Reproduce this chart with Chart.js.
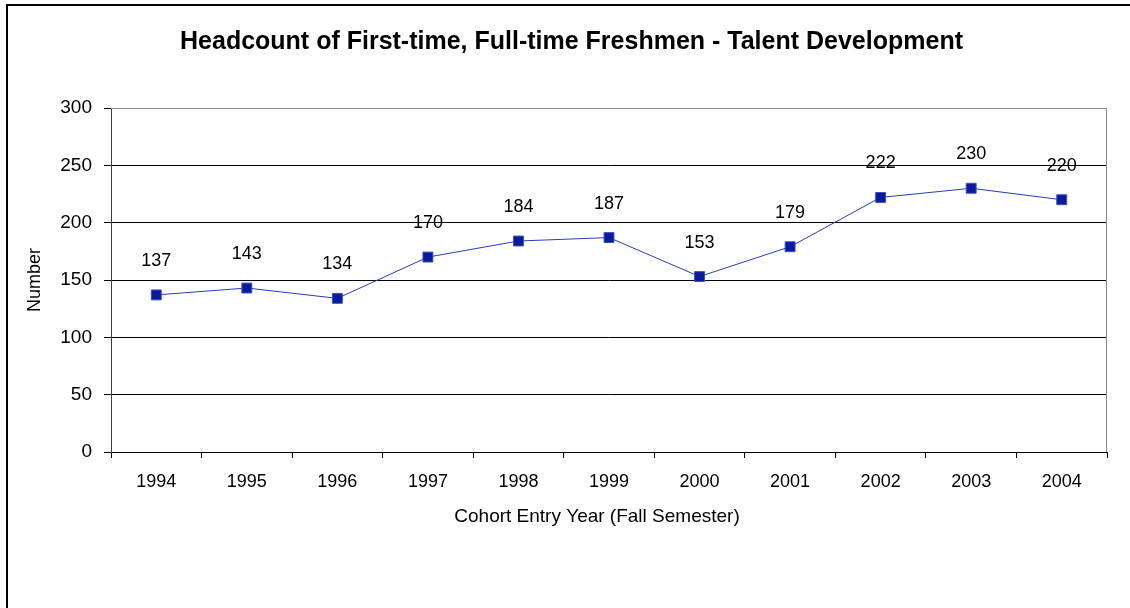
<!DOCTYPE html>
<html>
<head>
<meta charset="utf-8">
<script src="https://cdn.jsdelivr.net/npm/chart.js@4.4.1/dist/chart.umd.min.js"></script>
<style>
  html, body { margin: 0; padding: 0; background: #fff; }
  canvas { display: block; }
</style>
</head>
<body>
<canvas id="c" width="1130" height="608"></canvas>
<script>
// Cohort entry years and freshman headcounts
const years = ['1994', '1995', '1996', '1997', '1998', '1999', '2000', '2001', '2002', '2003', '2004'];
const headcount = [137, 143, 134, 170, 184, 187, 153, 179, 222, 230, 220];
const yTicks = [0, 50, 100, 150, 200, 250, 300];

const FONT = "'Liberation Sans', Arial, sans-serif";

// Outer frame, plot-area edges, value labels and the x caption
const decorations = {
  id: 'decorations',
  beforeDraw(chart) {
    const ctx = chart.ctx;
    ctx.save();
    ctx.strokeStyle = '#000';
    ctx.lineWidth = 2;
    ctx.beginPath();
    ctx.moveTo(7, 608);
    ctx.lineTo(7, 5);
    ctx.lineTo(1130, 5);
    ctx.stroke();
    ctx.restore();
  },
  afterDatasetsDraw(chart) {
    const ctx = chart.ctx;
    const a = chart.chartArea;
    ctx.save();
    ctx.strokeStyle = '#8c8c8c';
    ctx.lineWidth = 1;
    ctx.beginPath();
    ctx.moveTo(a.left, a.top + 0.5);
    ctx.lineTo(a.right - 0.5, a.top + 0.5);
    ctx.lineTo(a.right - 0.5, a.bottom);
    ctx.stroke();

    ctx.fillStyle = '#000';
    ctx.font = '18px ' + FONT;
    ctx.textAlign = 'center';
    ctx.textBaseline = 'middle';
    const meta = chart.getDatasetMeta(0);
    meta.data.forEach((pt, i) => {
      ctx.fillText(String(headcount[i]), pt.x, pt.y - 34);
    });

    ctx.font = '19px ' + FONT;
    ctx.fillText('Cohort Entry Year (Fall Semester)', 597, 517);
    ctx.restore();
  }
};

new Chart(document.getElementById('c'), {
  type: 'line',
  data: {
    labels: years,
    datasets: [{
      data: headcount,
      borderColor: '#2a3cc0',
      borderWidth: 1,
      backgroundColor: '#0a1a9c',
      pointStyle: 'rect',
      pointRadius: 7,
      pointBorderWidth: 1,
      pointBorderColor: '#3a4cc8',
      pointBackgroundColor: '#0a1a9c',
      tension: 0
    }]
  },
  options: {
    responsive: false,
    animation: false,
    devicePixelRatio: 1,
    layout: { padding: { left: 36, right: 23, top: 27, bottom: 0 } },
    plugins: {
      legend: { display: false },
      tooltip: { enabled: false },
      title: {
        display: true,
        text: 'Headcount of First-time, Full-time Freshmen - Talent Development',
        color: '#000',
        font: { family: FONT, size: 25, weight: 'bold', lineHeight: 1.2 },
        padding: { top: 0, bottom: 51 }
      }
    },
    scales: {
      x: {
        offset: true,
        grid: {
          offset: true,
          drawOnChartArea: false,
          tickLength: 6,
          tickColor: '#000'
        },
        border: { color: '#000', width: 1 },
        ticks: {
          color: '#000',
          font: { family: FONT, size: 18 },
          padding: 13,
          maxRotation: 0,
          autoSkip: false
        },
        afterFit(scale) { scale.height = 608 - 452; }
      },
      y: {
        min: 0,
        max: 300,
        afterBuildTicks(scale) { scale.ticks = yTicks.map(v => ({ value: v })); },
        grid: {
          color: (c) => (c.tick && c.tick.value === 300 ? '#8c8c8c' : '#000'),
          tickColor: '#000',
          tickLength: 7
        },
        border: { color: '#404040', width: 1 },
        ticks: {
          color: '#000',
          font: { family: FONT, size: 19 },
          padding: 12
        },
        title: {
          display: true,
          text: 'Number',
          color: '#000',
          font: { family: FONT, size: 18 },
          padding: { top: -12, bottom: 0 }
        },
        afterFit(scale) { scale.width = 111 - 36; }
      }
    }
  },
  plugins: [decorations]
});
</script>
</body>
</html>
